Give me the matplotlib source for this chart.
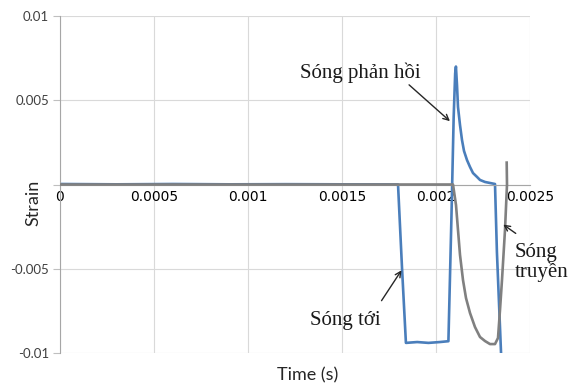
import matplotlib
matplotlib.use('Agg')
import matplotlib.pyplot as plt
import numpy as np

# incident + reflected wave (blue)
t_blue = [0, 0.0003, 0.0006, 0.0009, 0.0012, 0.0015, 0.001798, 0.001819, 0.00184,
          0.0019, 0.00196, 0.00202, 0.002066, 0.002082, 0.002094, 0.002102, 0.002106,
          0.0021117, 0.002117, 0.0021277, 0.0021383, 0.002149, 0.0021649, 0.0021809,
          0.0021968, 0.0022181, 0.002234, 0.0022606, 0.0022872, 0.0023138,
          0.002324, 0.002346, 0.00235]
s_blue = [0.00003, 0.00001, 0.00003, 0.00001, 0.00002, 0.00001, 0.0, -0.0049, -0.0094,
          -0.00935, -0.0094, -0.00935, -0.0093, -0.002, 0.004, 0.0066, 0.0070,
          0.0059, 0.0046, 0.00353, 0.00264, 0.00199, 0.00145, 0.00104,
          0.00068, 0.00045, 0.00027, 0.00015, 0.00009, 0.00003,
          -0.004, -0.0100, -0.0105]

# transmitted wave (gray)
t_gray = [0, 0.0005, 0.001, 0.0015, 0.0020904, 0.0021064, 0.002117, 0.0021277,
          0.0021436, 0.0021596, 0.002181, 0.0022074, 0.002234, 0.0022606, 0.0022872,
          0.0023138, 0.0023298, 0.0023404, 0.002351, 0.002367, 0.0023777, 0.002376]
s_gray = [0, 0, 0, 0, 0, -0.00122, -0.0027, -0.00418,
          -0.00567, -0.00674, -0.00763, -0.00846, -0.00905, -0.00929, -0.00947,
          -0.00947, -0.00911, -0.00745, -0.00567, -0.0027, 0.0, 0.0013]

xticks = [0, 0.0005, 0.001, 0.0015, 0.002, 0.0025]
xtick_labels = ['0', '0.0005', '0.001', '0.0015', '0.002', '0.0025']
yticks = [-0.01, -0.005, 0, 0.005, 0.01]
ytick_labels = ['-0.01', '-0.005', '', '0.005', '0.01']

W, H = 569, 386
fig = plt.figure(figsize=(W / 100, H / 100), dpi=100)
ax = fig.add_axes([60 / W, (H - 353) / H, 470 / W, 337 / H])

ax.plot(t_blue, s_blue, color='#4a7ebb', lw=1.9, zorder=2, solid_joinstyle='round')
ax.plot(t_gray, s_gray, color='#808080', lw=1.9, zorder=3, solid_joinstyle='round')

ax.set_xlim(0, 0.0025)
ax.set_ylim(-0.01, 0.01)
ax.set_xticks(xticks)
ax.set_xticklabels(xtick_labels, fontfamily='Lato', fontsize=9.5, color='#404040')
ax.set_yticks(yticks)
ax.set_yticklabels(ytick_labels, fontfamily='Lato', fontsize=9.5, color='#404040')
ax.tick_params(axis='x', length=0, pad=4)
ax.tick_params(axis='y', length=5, color='#bfbfbf', pad=3)
ax.grid(color='#d9d9d9', linewidth=0.8)
ax.set_axisbelow(True)

for side in ['top', 'right']:
    ax.spines[side].set_visible(False)
ax.spines['bottom'].set_position(('data', 0))
ax.spines['bottom'].set_color('#a6a6a6')
ax.spines['left'].set_color('#a6a6a6')

fig.text(308 / W, 1 - 375 / H, 'Time (s)', ha='center', va='center',
         fontfamily='Lato', fontsize=13, color='#262626')
fig.text(33 / W, 1 - 203 / H, 'Strain', ha='center', va='center', rotation=90,
         fontfamily='Lato', fontsize=13, color='#262626')

def px(x, y):
    return (x / W, 1 - y / H)

arrow = dict(arrowstyle='->', color='#262626', lw=1.0)
ax.annotate('', xy=px(452, 123), xytext=px(407, 83), xycoords='figure fraction',
            textcoords='figure fraction', arrowprops=arrow)
ax.annotate('', xy=px(403, 268), xytext=px(380, 303), xycoords='figure fraction',
            textcoords='figure fraction', arrowprops=arrow)
ax.annotate('', xy=px(501, 223), xytext=px(518, 235), xycoords='figure fraction',
            textcoords='figure fraction', arrowprops=arrow)

serif = dict(fontfamily='Liberation Serif', fontsize=15, color='#1a1a1a')
fig.text(300 / W, 1 - 73 / H, 'Sóng phản hồi', ha='left', va='center', **serif)
fig.text(310 / W, 1 - 320 / H, 'Sóng tới', ha='left', va='center', **serif)
fig.text(515 / W, 1 - 252 / H, 'Sóng', ha='left', va='center', **serif)
fig.text(515 / W, 1 - 272 / H, 'truyền', ha='left', va='center', **serif)

fig.savefig('out.png', dpi=100)
